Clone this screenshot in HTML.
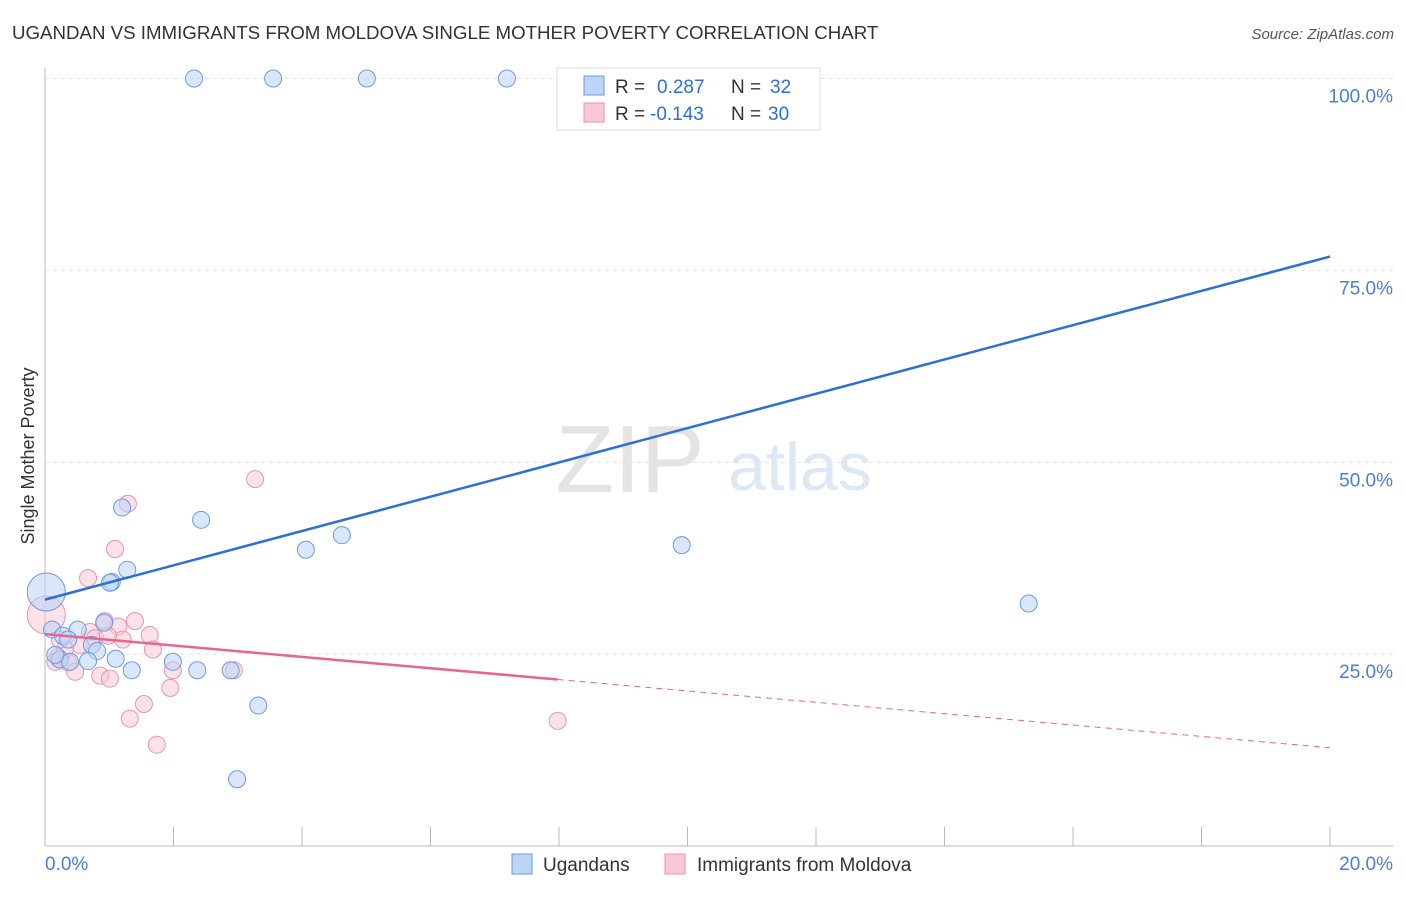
<!DOCTYPE html>
<html><head><meta charset="utf-8"><style>
body{margin:0;background:#fff;font-family:"Liberation Sans",sans-serif;}
svg text{font-family:"Liberation Sans",sans-serif;}
</style></head><body>
<svg id="c" width="1406" height="892" xmlns="http://www.w3.org/2000/svg">
<text x="12" y="39" font-size="18.7" fill="#333">UGANDAN VS IMMIGRANTS FROM MOLDOVA SINGLE MOTHER POVERTY CORRELATION CHART</text>
<text x="1394" y="39" font-size="15" fill="#555" font-style="italic" text-anchor="end">Source: ZipAtlas.com</text>
<text x="630" y="492" font-size="96" fill="#e4e4e4" font-family="Liberation Serif" text-anchor="middle">ZIP</text>
<text x="800" y="490" font-size="68" fill="#dce8f6" text-anchor="middle">atlas</text>
<text x="34" y="456" font-size="18" fill="#333" transform="rotate(-90 34 456)" text-anchor="middle">Single Mother Poverty</text>
<g id="grid"></g><g id="marks"></g>
<rect x="557" y="68" width="263" height="62" fill="#fff" stroke="#ddd"/>
<rect x="584" y="76" width="20" height="19" fill="#bcd4f5" stroke="#6c9be0"/>
<rect x="584" y="103" width="20" height="19" fill="#f8c8d6" stroke="#e995b0"/>
<text x="615" y="93" font-size="19" fill="#333">R =</text>
<text x="657" y="93" font-size="19" fill="#2d6fd6">0.287</text>
<text x="731" y="93" font-size="19" fill="#333">N =</text>
<text x="770" y="93" font-size="19" fill="#2d6fd6">32</text>
<text x="615" y="120" font-size="19" fill="#333">R =</text>
<text x="650" y="120" font-size="19" fill="#2d6fd6">-0.143</text>
<text x="731" y="120" font-size="19" fill="#333">N =</text>
<text x="768" y="120" font-size="19" fill="#2d6fd6">30</text>
<rect x="512" y="854" width="20" height="20" fill="#bcd4f5" stroke="#6c9be0"/>
<text x="543" y="871" font-size="19" fill="#333">Ugandans</text>
<rect x="665" y="854" width="20" height="20" fill="#f8c8d6" stroke="#e995b0"/>
<text x="697" y="871" font-size="19" fill="#333">Immigrants from Moldova</text>
<text x="45" y="870" font-size="19" fill="#4a7fd0">0.0%</text>
<text x="1393" y="870" font-size="19" fill="#4a7fd0" text-anchor="end">20.0%</text>
</svg>
<script>
const blueX=[2.32,3.55,5.01,7.19,1.20,2.43,4.06,4.62,9.91,15.31,1.28,1.04,1.01,0.02,0.11,0.28,0.51,0.36,0.92,0.73,0.81,0.23,0.67,1.10,1.35,1.99,2.37,2.89,3.32,2.99,0.39,0.16];
const blueY=[100,100,100,100,44.1,42.5,38.6,40.5,39.2,31.6,36.0,34.4,34.3,33.1,28.2,27.4,28.2,26.9,29.1,26.2,25.4,24.3,24.1,24.4,22.9,24.0,22.9,22.9,18.3,8.7,24.0,24.9];
const pinkX=[3.27,1.29,1.09,0.67,0.02,0.93,1.40,1.63,0.70,0.78,1.14,1.21,0.54,0.31,1.68,0.20,0.16,0.36,0.47,0.86,1.01,1.99,2.94,1.95,1.54,1.32,1.74,7.98,0.23,0.98];
const pinkY=[47.8,44.6,38.7,34.9,30.1,29.3,29.3,27.5,27.9,27.1,28.6,26.9,26.2,25.6,25.6,24.6,24.0,23.9,22.7,22.2,21.8,22.9,22.9,20.6,18.5,16.6,13.2,16.3,26.9,27.4];
const yTicks=[25,50,75,100];
const yTickLabels=["25.0%","50.0%","75.0%","100.0%"];
const blueTrend=[32.1,76.8];
const pinkTrend=[27.6,12.8];
const pinkSolidEnd=7.98;
const NS="http://www.w3.org/2000/svg";
const sx=v=>45+v/20*1285, sy=v=>846-v/100*767.5;
const grid=document.getElementById('grid'), marks=document.getElementById('marks');
function mk(tag,attrs,parent){const e=document.createElementNS(NS,tag);for(const k in attrs)e.setAttribute(k,attrs[k]);parent.appendChild(e);return e;}
let ax=mk('line',{x1:45,y1:68,x2:45,y2:846,stroke:'#bbb'},grid);


let bx=mk('line',{x1:45,y1:846,x2:1393,y2:846,stroke:'#bbb'},grid);


yTicks.forEach((t,i)=>{
 let g=mk('line',{x1:45,x2:1393,y1:sy(t),y2:sy(t),stroke:'#e2e2e2','stroke-dasharray':'4,4'},grid);
 
 
 let tx=mk('text',{x:1393,y:sy(t)+24,'font-size':19,fill:'#4a7fd0','text-anchor':'end'},grid);
 tx.textContent=yTickLabels[i];
 
 
});
for(let i=0;i<=10;i++){
 let t=mk('line',{x1:sx(i*2),x2:sx(i*2),y1:827,y2:846,stroke:'#bbb'},grid);
 
 
}
function pts(X,Y,fill,stroke,name,bigIdx){
 X.forEach((x,i)=>{
  let c=mk('circle',{cx:sx(x),cy:sy(Y[i]),r:i===bigIdx?19:8.5,fill:fill,'fill-opacity':0.55,stroke:stroke,'stroke-width':1},marks);
  
  
 });
}
pts(pinkX,pinkY,'#f8c8d6','#e995b0','point-moldova',4);
pts(blueX,blueY,'#bcd4f5','#6c9be0','point-ugandans',13);
let bl=mk('line',{x1:sx(0),y1:sy(blueTrend[0]),x2:sx(20),y2:sy(blueTrend[1]),stroke:'#2d6fd6','stroke-width':2.5},marks);


const pAt=x=>pinkTrend[0]+(pinkTrend[1]-pinkTrend[0])*x/20;
let pl=mk('line',{x1:sx(0),y1:sy(pAt(0)),x2:sx(pinkSolidEnd),y2:sy(pAt(pinkSolidEnd)),stroke:'#e8658f','stroke-width':2.5},marks);


let pd=mk('line',{x1:sx(pinkSolidEnd),y1:sy(pAt(pinkSolidEnd)),x2:sx(20),y2:sy(pAt(20)),stroke:'#e8658f','stroke-width':1,'stroke-dasharray':'6,5'},marks);


</script>
</body></html>
